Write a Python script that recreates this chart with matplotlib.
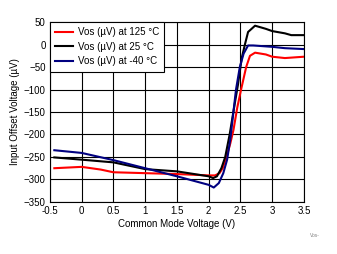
import matplotlib.pyplot as plt

plt.rcParams['font.family'] = ['Liberation Sans', 'DejaVu Sans']

x_125 = [-0.43, 0.0, 0.3, 0.5, 1.0, 1.5, 2.0, 2.1, 2.17, 2.22, 2.28, 2.34, 2.39, 2.45, 2.51, 2.59, 2.65, 2.73, 2.9, 3.0, 3.2, 3.5]
y_125 = [-275, -272, -278, -284, -286, -288, -291, -291, -286, -275, -250, -220, -190, -140, -100, -50, -25, -18, -22, -27, -30, -27]

x_25 = [-0.43, 0.0, 0.5, 1.0, 1.5, 2.0, 2.07, 2.13, 2.2, 2.26, 2.33, 2.4, 2.46, 2.52, 2.57, 2.62, 2.73, 2.9, 3.0, 3.2, 3.3, 3.5]
y_25 = [-251, -256, -262, -277, -282, -293, -297, -293, -275, -250, -200, -140, -90, -30, 0, 28, 42, 35, 30, 25, 21, 21]

x_m40 = [-0.43, 0.0, 0.5, 1.0, 1.5, 2.0, 2.08, 2.16, 2.23, 2.29, 2.34, 2.43, 2.49, 2.55, 2.62, 2.7, 3.0, 3.2, 3.5]
y_m40 = [-235, -241, -257, -275, -293, -312, -318, -308, -286, -256, -211, -100, -50, -20, -2, -2, -5, -8, -10]

fig = plt.figure(figsize=(3.37, 2.54), dpi=100)
ax = fig.add_axes([0.148, 0.205, 0.754, 0.708])

ax.plot(x_125, y_125, color='#ff0000', lw=1.5, label='Vos (µV) at 125 °C')
ax.plot(x_25, y_25, color='black', lw=1.5, label='Vos (µV) at 25 °C')
ax.plot(x_m40, y_m40, color='#000080', lw=1.5, label='Vos (µV) at -40 °C')

ax.set_xlim(-0.5, 3.5)
ax.set_ylim(-350, 50)
ax.set_xticks([-0.5, 0, 0.5, 1, 1.5, 2, 2.5, 3, 3.5])
ax.set_xticklabels(['-0.5', '0', '0.5', '1', '1.5', '2', '2.5', '3', '3.5'])
ax.set_yticks(range(-350, 51, 50))
ax.grid(True, color='black', lw=0.8)
ax.tick_params(length=0, labelsize=7, pad=3)
for s in ax.spines.values():
    s.set_linewidth(0.8)

ax.set_xlabel('Common Mode Voltage (V)', fontsize=7, labelpad=2)
ax.set_ylabel('Input Offset Voltage (µV)', fontsize=7, labelpad=3)

leg = ax.legend(loc='upper left', fontsize=7, frameon=True, fancybox=False,
                borderaxespad=0, handlelength=1.8, handletextpad=0.5,
                labelspacing=0.45, borderpad=0.55)
leg.get_frame().set_edgecolor('black')
leg.get_frame().set_linewidth(0.8)
leg.get_frame().set_alpha(1)

fig.text(0.95, 0.065, 'Vos-', fontsize=3.5, color='gray', ha='right')

fig.savefig('out.png', dpi=100)
